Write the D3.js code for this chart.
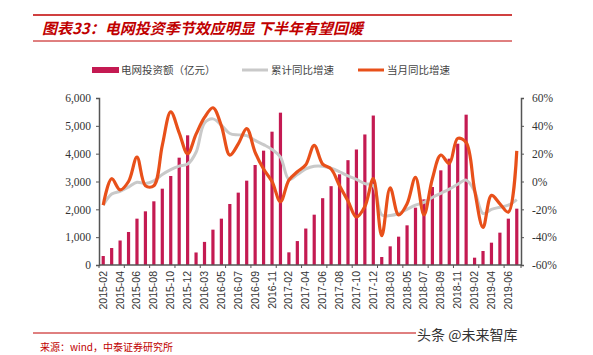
<!DOCTYPE html>
<html><head><meta charset="utf-8">
<script src="https://cdn.jsdelivr.net/npm/d3@7"></script>
<style>html,body{margin:0;padding:0;background:#fff;}</style>
</head><body>
<svg id="c" width="593" height="355"></svg>
<script>
const categories = [
 "2015-02","2015-03","2015-04","2015-05","2015-06","2015-07","2015-08","2015-09","2015-10","2015-11","2015-12",
 "2016-02","2016-03","2016-04","2016-05","2016-06","2016-07","2016-08","2016-09","2016-10","2016-11","2016-12",
 "2017-02","2017-03","2017-04","2017-05","2017-06","2017-07","2017-08","2017-09","2017-10","2017-11","2017-12",
 "2018-02","2018-03","2018-04","2018-05","2018-06","2018-07","2018-08","2018-09","2018-10","2018-11","2018-12",
 "2019-02","2019-03","2019-04","2019-05","2019-06","2019-07"];
const investment = [
 323,610,880,1186,1665,1928,2288,2742,3198,3856,4659,
 450,830,1270,1665,2192,2600,3030,3593,4108,4790,5473,
 455,860,1310,1808,2400,2832,3258,3766,4150,4690,5370,
 287,671,1018,1425,2060,2359,2802,3401,3820,4359,5401,
 263,503,802,1162,1665,2024];
const cumulativeYoY = [
 -17,-9,-7,-4,-0.5,-1.5,0.5,5,8.5,11,12.5,
 21,42,45,40.5,34.5,33.5,33,29.5,26.5,23,17.5,
 1.5,5,9,11,11,9.5,7,4,1.5,-1.5,-3,
 -24,-24.5,-23,-20,-17,-15,-11.5,-8.5,-5.5,-2,1,
 -7,-23,-20,-18.5,-17,-13];
const monthlyYoY = [
 -17,2,-6,0,17.5,-3,-3,26,50,35,20,
 34,46,53,40,19,27,38,21,9,0,-14.5,
 1,7,12,26,12.5,9,-3,-14,-25.5,-18,2,
 -39,-4.5,-24,-16,3,-24,2,19,13,31,28,
 -6,-33,-10,-16,-22,22];
const leftTicks = [0,1000,2000,3000,4000,5000,6000];
const rightTicks = [-60,-40,-20,0,20,40,60];
const seriesNames = ["电网投资额（亿元）","累计同比增速","当月同比增速"];
const titleText = "图表33：电网投资季节效应明显 下半年有望回暖";
const sourceText = "来源：wind，中泰证券研究所";
const watermark = "头条 @未来智库";

const svg = d3.select("#c");
const red = "#C00000", barColor = "#C41A52", orange = "#E8501A", gray = "#C9C9C9";
const L = 99, R = 521, T = 98, B = 265;

// header
svg.append("line").attr("x1",33).attr("x2",512).attr("y1",15).attr("y2",15).attr("stroke",red).attr("stroke-width",1.5);
svg.append("line").attr("x1",33).attr("x2",512).attr("y1",41).attr("y2",41).attr("stroke",red).attr("stroke-width",1);
svg.append("text").attr("x",42).attr("y",34).text(titleText)
  .attr("fill",red).attr("font-size",15).attr("font-weight","bold").attr("font-style","italic")
  .attr("font-family","'Noto Sans CJK SC', sans-serif");

// scales
const x = d3.scaleBand().domain(categories).range([L,R]).paddingInner(0.62).paddingOuter(0.31);
const xs = d3.scaleBand().domain(categories).range([L,R]);
const yL = d3.scaleLinear().domain([0,6000]).range([B,T]);
const yR = d3.scaleLinear().domain([-60,60]).range([B,T]);

// bars
svg.append("g").selectAll("rect").data(investment).join("rect")
  .attr("x",(d,i)=>xs(categories[i]) + xs.bandwidth()/2 - 1.6)
  .attr("width",3.2)
  .attr("y",d=>yL(d)).attr("height",d=>B-yL(d)).attr("fill",barColor);

// lines
const line = d3.line().x((d,i)=>xs(categories[i])+xs.bandwidth()/2).y(d=>yR(d)).curve(d3.curveCatmullRom.alpha(0.5));
svg.append("path").attr("d",line(cumulativeYoY)).attr("fill","none").attr("stroke",gray).attr("stroke-width",3);
svg.append("path").attr("d",line(monthlyYoY)).attr("fill","none").attr("stroke",orange).attr("stroke-width",3.2);

// axes
const axisColor = "#555";
const gl = svg.append("g").attr("transform",`translate(${L},0)`)
  .call(d3.axisLeft(yL).tickValues(leftTicks).tickFormat(d3.format(",")).tickSize(3).tickPadding(5));
const gr = svg.append("g").attr("transform",`translate(${R},0)`)
  .call(d3.axisRight(yR).tickValues(rightTicks).tickFormat(d=>d+"%").tickSize(3).tickPadding(8));
const tickCats = categories.filter((d,i)=>i%3===0);
const gx = svg.append("g").attr("transform",`translate(0,${B})`)
  .call(d3.axisBottom(xs).tickValues(tickCats).tickSize(3).tickFormat(""));
gx.selectAll(".tick").attr("transform",d=>`translate(${xs(d)},0)`);
svg.append("line").attr("x1",R).attr("x2",R).attr("y1",B).attr("y2",B+3).attr("stroke",axisColor);
[gl,gr,gx].forEach(g=>{
  g.select(".domain").attr("stroke",axisColor).attr("stroke-width",1.5);
  g.selectAll(".tick line").attr("stroke",axisColor);
  g.selectAll("text").attr("fill","#333").attr("font-size",11.5).attr("font-family","'Liberation Serif', serif");
});
gx.select(".domain").attr("d",`M${L},0H${R}`);

// x labels
svg.append("g").selectAll("text").data(categories.filter((d,i)=>i%2===0)).join("text")
  .attr("transform",d=>`translate(${xs(d)+xs.bandwidth()/2+3.5},${B+6}) rotate(-90)`)
  .attr("text-anchor","end").attr("font-size",10.5).attr("fill","#333")
  .attr("font-family","'Liberation Sans', Arial, sans-serif").text(d=>d);

// legend
const lg = svg.append("g").attr("font-family","'Noto Sans CJK SC', sans-serif").attr("font-size",10.5).attr("fill","#444");
lg.append("rect").attr("x",92).attr("y",67).attr("width",27).attr("height",6).attr("fill",barColor);
lg.append("text").attr("x",121).attr("y",74).text(seriesNames[0]);
lg.append("line").attr("x1",242).attr("x2",268).attr("y1",70).attr("y2",70).attr("stroke",gray).attr("stroke-width",3);
lg.append("text").attr("x",271).attr("y",74).text(seriesNames[1]);
lg.append("line").attr("x1",358).attr("x2",384).attr("y1",70).attr("y2",70).attr("stroke",orange).attr("stroke-width",3);
lg.append("text").attr("x",387).attr("y",74).text(seriesNames[2]);

// footer
svg.append("line").attr("x1",33).attr("x2",416).attr("y1",333).attr("y2",333).attr("stroke",red).attr("stroke-width",1);
svg.append("text").attr("x",40).attr("y",351).text(sourceText).attr("fill",red).attr("font-size",10)
  .attr("font-family","'Noto Sans CJK SC', sans-serif");
svg.append("text").attr("x",417).attr("y",340).text(watermark).attr("fill","#333").attr("font-size",14)
  .attr("font-family","'Noto Sans CJK SC', sans-serif");
</script>
</body></html>
